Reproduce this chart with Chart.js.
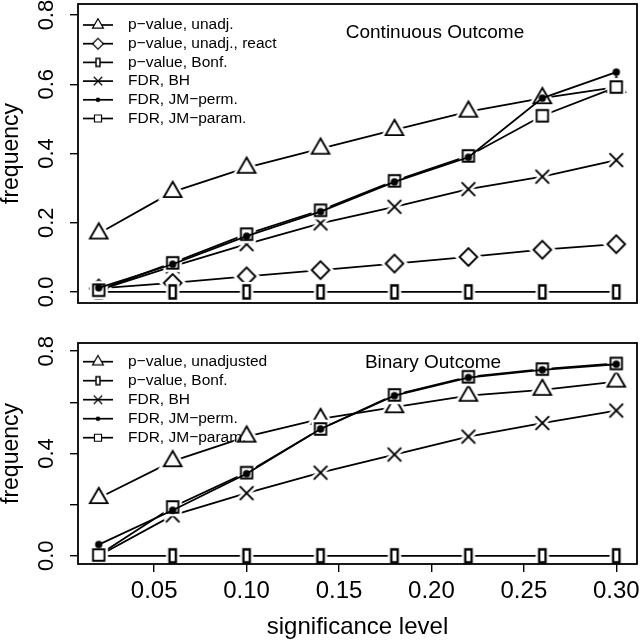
<!DOCTYPE html>
<html>
<head>
<meta charset="utf-8">
<script src="https://cdn.jsdelivr.net/npm/chart.js@4.4.0/dist/chart.umd.min.js"></script>
<style>
  html, body { margin: 0; padding: 0; background: #fff; }
  #wrap { position: relative; width: 640px; height: 643px; }
  canvas { position: absolute; left: 0; }
  #contChart { top: 0; }
  #binChart { top: 320px; }
</style>
</head>
<body>
<div id="wrap">
  <canvas id="contChart" width="640" height="320" style="width:640px;height:320px"></canvas>
  <canvas id="binChart" width="640" height="323" style="width:640px;height:323px"></canvas>
</div>
<script>
// significance levels (x)
const sigLevels = [0.02, 0.06, 0.10, 0.14, 0.18, 0.22, 0.26, 0.30];

// Continuous outcome
const contLabels = ['p\u2212value, unadj.', 'p\u2212value, unadj., react', 'p\u2212value, Bonf.', 'FDR, BH', 'FDR, JM\u2212perm.', 'FDR, JM\u2212param.'];
const contUnadj = [0.169, 0.289, 0.359, 0.414, 0.468, 0.521, 0.560, 0.592];
const contReact = [0.010, 0.026, 0.045, 0.063, 0.082, 0.101, 0.122, 0.138];
const contBonf  = [0, 0, 0, 0, 0, 0, 0, 0];
const contBH    = [0.005, 0.074, 0.138, 0.198, 0.246, 0.297, 0.333, 0.381];
const contPerm  = [0.012, 0.080, 0.161, 0.232, 0.318, 0.389, 0.560, 0.635];
const contParam = [0.005, 0.084, 0.167, 0.236, 0.321, 0.393, 0.509, 0.592];

// Binary outcome
const binLabels = ['p\u2212value, unadjusted', 'p\u2212value, Bonf.', 'FDR, BH', 'FDR, JM\u2212perm.', 'FDR, JM\u2212param.'];
const binUnadj = [0.226, 0.370, 0.466, 0.535, 0.581, 0.626, 0.649, 0.681];
const binBonf  = [0, 0, 0, 0, 0, 0, 0, 0];
const binBH    = [0.000, 0.158, 0.245, 0.325, 0.396, 0.466, 0.519, 0.568];
const binPerm  = [0.044, 0.178, 0.321, 0.496, 0.626, 0.697, 0.727, 0.749];
const binParam = [0.003, 0.191, 0.325, 0.496, 0.629, 0.700, 0.730, 0.752];

// axis ticks
const xTickVals = [0.05, 0.10, 0.15, 0.20, 0.25, 0.30];
const yTickVals = [0, 0.2, 0.4, 0.6, 0.8];
const contYLabels = [0, 0.2, 0.4, 0.6, 0.8];
const binYLabels = [0, 0.4, 0.8];

const FONT = '"Liberation Sans", Arial, Helvetica, sans-serif';
Chart.defaults.font.family = FONT;
Chart.defaults.color = '#000';

// draw a plot symbol into a small canvas, used as pointStyle
function makeMarker(kind, s, halo) {
  let size = Math.ceil(32 * s);
  if (size % 2) size++;
  const c = document.createElement('canvas');
  c.width = size; c.height = size;
  const g = c.getContext('2d');
  g.translate(size / 2, size / 2);
  g.scale(s, s);
  const path = () => {
    g.beginPath();
    if (kind === 'triangle') { g.moveTo(0, -10.2); g.lineTo(8.8, 5.1); g.lineTo(-8.8, 5.1); g.closePath(); }
    else if (kind === 'diamond') { g.moveTo(0, -8.8); g.lineTo(8.8, 0); g.lineTo(0, 8.8); g.lineTo(-8.8, 0); g.closePath(); }
    else if (kind === 'square') { g.rect(-5.7, -5.7, 11.4, 11.4); }
    else if (kind === 'bar') { g.rect(-3.2, -6.5, 6.4, 13); }
    else if (kind === 'cross') { g.moveTo(-6.8, -6.8); g.lineTo(6.8, 6.8); g.moveTo(6.8, -6.8); g.lineTo(-6.8, 6.8); }
    else if (kind === 'dot') { g.arc(0, 0, 3.7, 0, Math.PI * 2); }
  };
  if (kind === 'dot') { path(); g.fillStyle = '#000'; g.fill(); return c; }
  if (halo) { path(); g.strokeStyle = '#fff'; g.lineWidth = 7; g.stroke(); }
  if (kind !== 'cross') { path(); g.fillStyle = '#fff'; g.fill(); }
  path();
  g.strokeStyle = '#000';
  g.lineWidth = kind === 'bar' ? 2.3 : 1.9;
  g.stroke();
  return c;
}

function makeDatasets(labels, series, kinds, orders) {
  return series.map((vals, i) => ({
    label: labels[i],
    data: sigLevels.map((x, j) => ({ x: x, y: vals[j] })),
    borderColor: '#000',
    borderWidth: 1.8,
    pointStyle: makeMarker(kinds[i], 1, true),
    pointRadius: 6,
    fill: false,
    tension: 0,
    order: orders[i]
  }));
}

// legend with line-symbol-line, plus panel title
const panelLegend = {
  id: 'panelLegend',
  afterDatasetsDraw(chart, args, opts) {
    const ctx = chart.ctx;
    ctx.save();
    chart.data.datasets.forEach((ds, i) => {
      const y = opts.top + i * opts.step;
      ctx.strokeStyle = '#000';
      ctx.lineWidth = 1.7;
      ctx.beginPath(); ctx.moveTo(83, y); ctx.lineTo(113, y); ctx.stroke();
      const m = makeMarker(opts.kinds[i], 0.62, false);
      ctx.drawImage(m, 98 - m.width / 2, y - m.height / 2);
      ctx.fillStyle = '#000';
      ctx.font = '15.5px ' + FONT;
      ctx.textAlign = 'left';
      ctx.textBaseline = 'middle';
      ctx.fillText(ds.label, 128, y);
    });
    ctx.font = '19px ' + FONT;
    ctx.textAlign = 'center';
    ctx.fillText(opts.title, opts.titleX, opts.titleY);
    ctx.restore();
  }
};

const frameBox = {
  id: 'frameBox',
  afterDraw(chart) {
    const a = chart.chartArea, ctx = chart.ctx;
    ctx.save();
    ctx.strokeStyle = '#000';
    ctx.lineWidth = 1.8;
    ctx.strokeRect(a.left, a.top, a.right - a.left, a.bottom - a.top);
    ctx.restore();
  }
};

function panelOptions(showX, yLabels, legendCfg) {
  return {
    responsive: false,
    animation: false,
    events: [],
    layout: { autoPadding: false, padding: { left: 0, right: 3, top: showX ? 23 : 4, bottom: showX ? 0 : 17 } },
    scales: {
      x: {
        type: 'linear', min: 0.0088, max: 0.3112, display: showX,
        afterBuildTicks: s => { s.ticks = xTickVals.map(v => ({ value: v })); },
        afterFit: s => { s.height = showX ? 79 : 0; s.paddingLeft = 0; s.paddingRight = 0; },
        grid: { drawOnChartArea: false, drawTicks: true, tickLength: 8, color: '#000', lineWidth: 1.4 },
        border: { display: false },
        ticks: { font: { size: 24 }, padding: 5, maxRotation: 0, autoSkip: false, callback: v => v.toFixed(2) },
        title: { display: true, text: 'significance level', font: { size: 24, lineHeight: 1.2 }, padding: { top: 0, bottom: 1 } }
      },
      y: {
        min: -0.032, max: 0.832,
        afterBuildTicks: s => { s.ticks = yTickVals.map(v => ({ value: v })); },
        afterFit: s => { s.width = 78; s.paddingTop = 0; s.paddingBottom = 0; },
        grid: { drawOnChartArea: false, drawTicks: true, tickLength: 8, color: '#000', lineWidth: 1.4 },
        border: { display: false },
        ticks: {
          font: { size: 22 }, padding: 8, minRotation: 90, maxRotation: 90, crossAlign: 'center', autoSkip: false,
          callback: v => yLabels.includes(v) ? v.toFixed(1) : ''
        },
        title: { display: true, text: 'frequency', font: { size: 23, lineHeight: 1 }, padding: { top: 0, bottom: 0 } }
      }
    },
    plugins: {
      legend: { display: false },
      tooltip: { enabled: false },
      panelLegend: legendCfg
    }
  };
}

const contKinds = ['triangle', 'diamond', 'bar', 'cross', 'dot', 'square'];
new Chart(document.getElementById('contChart'), {
  type: 'line',
  data: {
    datasets: makeDatasets(contLabels, [contUnadj, contReact, contBonf, contBH, contPerm, contParam], contKinds, [6, 5, 4, 3, 1, 2])
  },
  options: panelOptions(false, contYLabels, { top: 25, step: 18.7, kinds: contKinds, title: 'Continuous Outcome', titleX: 435, titleY: 33 }),
  plugins: [panelLegend, frameBox]
});

const binKinds = ['triangle', 'bar', 'cross', 'dot', 'square'];
new Chart(document.getElementById('binChart'), {
  type: 'line',
  data: {
    datasets: makeDatasets(binLabels, [binUnadj, binBonf, binBH, binPerm, binParam], binKinds, [5, 4, 3, 1, 2])
  },
  options: panelOptions(true, binYLabels, { top: 41.7, step: 19, kinds: binKinds, title: 'Binary Outcome', titleX: 433, titleY: 43 }),
  plugins: [panelLegend, frameBox]
});
</script>
</body>
</html>
